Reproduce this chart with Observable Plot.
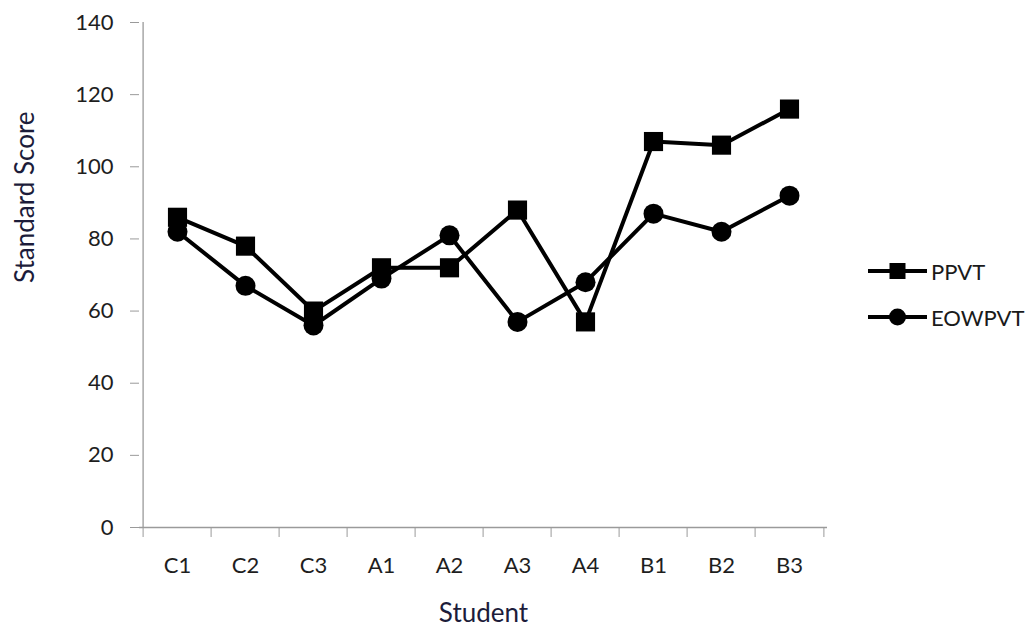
<!DOCTYPE html>
<html>
<head>
<meta charset="utf-8">
<script src="https://cdn.jsdelivr.net/npm/d3@7"></script>
<script src="https://cdn.jsdelivr.net/npm/@observablehq/plot@0.6"></script>
<style>
  html, body { margin: 0; padding: 0; background: #fff; }
  #chart { position: relative; width: 1036px; height: 626px; font-family: Lato, "Open Sans", sans-serif; }
  #legend { position: absolute; left: 868px; top: 248px; }
  .item { display: flex; align-items: center; height: 46px; font-size: 22px; color: #1a1a1a; }
  .item svg { margin-right: 4px; }
</style>
</head>
<body>
<div id="chart"><div id="legend"></div></div>
<script>
// Standard scores per student on two vocabulary tests
const students = ["C1", "C2", "C3", "A1", "A2", "A3", "A4", "B1", "B2", "B3"];
const ppvt = [86, 78, 60, 72, 72, 88, 57, 107, 106, 116];
const eowpvt = [82, 67, 56, 69, 81, 57, 68, 87, 82, 92];
const yTicks = [0, 20, 40, 60, 80, 100, 120, 140];
const seriesNames = ["PPVT", "EOWPVT"];

const rows = [
  ...students.map((s, i) => ({student: s, score: ppvt[i], test: seriesNames[0]})),
  ...students.map((s, i) => ({student: s, score: eowpvt[i], test: seriesNames[1]}))
];

const W = 1036, H = 626;
const mL = 139, mR = 209, mT = 22, mB = 99;
const step = (W - mL - mR) / students.length;
const axisColor = "#9a9a9a";
const ink = "#000";

const chart = Plot.plot({
  width: W,
  height: H,
  marginLeft: mL,
  marginRight: mR,
  marginTop: mT,
  marginBottom: mB,
  style: {fontFamily: "Lato, 'Open Sans', sans-serif", background: "#fff", color: "#222"},
  x: {type: "point", domain: students, padding: 0.5, label: null},
  y: {domain: [0, 140], label: null},
  marks: [
    // axis lines
    Plot.ruleY([0], {stroke: axisColor, strokeWidth: 1.3}),
    Plot.ruleX([students[0]], {y1: 0, y2: 140, dx: -step / 2, stroke: axisColor, strokeWidth: 1.3}),
    // y axis ticks and labels
    Plot.axisY({ticks: yTicks, tickSize: 9, tickPadding: 17, fontSize: 22, stroke: axisColor, fill: "#1e1e1e", label: null}),
    // x tick marks sit between categories
    Plot.axisX({tickSize: 10, dx: -step / 2, text: null, stroke: axisColor, label: null}),
    Plot.axisX({ticks: [students[students.length - 1]], tickSize: 10, dx: step / 2, text: null, stroke: axisColor, label: null}),
    Plot.axisX({tickSize: 0, tickPadding: 30, fontSize: 22, fill: "#1e1e1e", label: null}),
    // axis titles
    Plot.text(["Standard Score"], {frameAnchor: "left", dx: -114, dy: 8, rotate: -90, fontSize: 26, fill: "#1c1c3a"}),
    Plot.text(["Student"], {frameAnchor: "bottom", dy: 94, fontSize: 26, fill: "#1c1c3a"}),
    // series
    Plot.line(rows, {x: "student", y: "score", z: "test", stroke: ink, strokeWidth: 4}),
    Plot.dot(rows.filter(d => d.test === "PPVT"), {x: "student", y: "score", symbol: "square", r: 10.8, fill: ink}),
    Plot.dot(rows.filter(d => d.test === "EOWPVT"), {x: "student", y: "score", symbol: "circle", r: 10, fill: ink})
  ]
});
document.getElementById("chart").prepend(chart);

// legend
const legend = d3.select("#legend");
seriesNames.forEach((name, i) => {
  const item = legend.append("div").attr("class", "item");
  const svg = item.append("svg").attr("width", 59).attr("height", 24);
  svg.append("line").attr("x1", 0).attr("x2", 59).attr("y1", 12).attr("y2", 12)
    .attr("stroke", ink).attr("stroke-width", 4);
  if (i === 0) {
    svg.append("rect").attr("x", 21.5).attr("y", 4).attr("width", 16).attr("height", 16).attr("fill", ink);
  } else {
    svg.append("circle").attr("cx", 29.5).attr("cy", 12).attr("r", 8.5).attr("fill", ink);
  }
  item.append("span").text(name);
});
</script>
</body>
</html>
